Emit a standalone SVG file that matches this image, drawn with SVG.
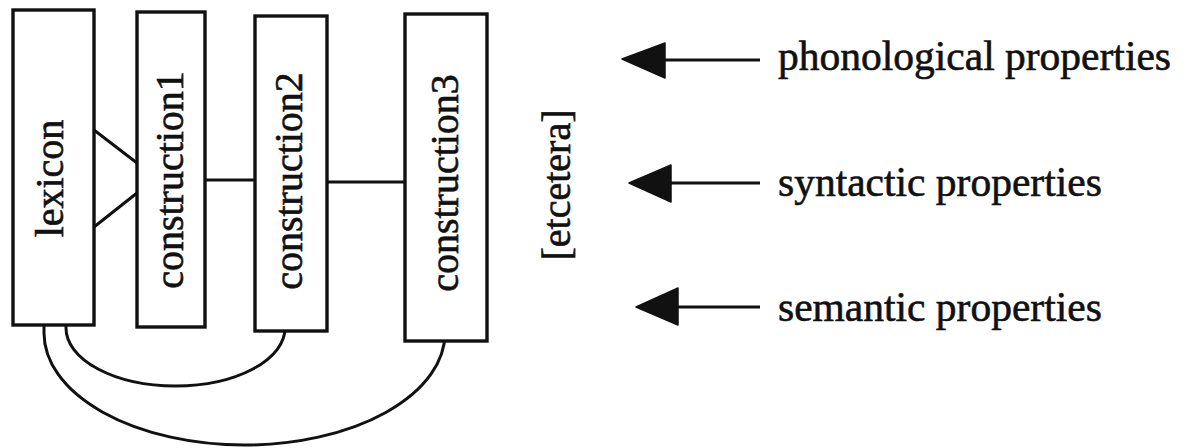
<svg xmlns="http://www.w3.org/2000/svg" width="1194" height="448" viewBox="0 0 1194 448">
<style>
.box{fill:#fff;stroke:#111;stroke-width:3.4}
.ln{fill:none;stroke:#111;stroke-width:3}
.t{font-family:"Liberation Serif","Times New Roman",serif;font-size:40px;fill:#111;stroke:#111;stroke-width:0.6}
.lbl{font-family:"Liberation Serif","Times New Roman",serif;font-size:41.5px;fill:#111;stroke:#111;stroke-width:0.6}
.head{fill:#111;stroke:#111;stroke-width:1.5;stroke-linejoin:round}
</style>
<rect width="1194" height="448" fill="#fff"/>
<g id="connectors">
<path class="ln" d="M94,130 L137,163 M94,227 L137,193"/>
<path class="ln" d="M205,180 L255,180"/>
<path class="ln" d="M327,182 L405,182"/>
<path class="ln" d="M66,325 L66,328 A109.5,58 0 0 0 285,328 L285,331"/>
<path class="ln" d="M44,325 L44,333 A200.5,112 0 0 0 445,333 L445,341"/>
</g>
<g id="lexicon">
<rect class="box" x="13" y="10" width="81" height="315"/>
<text class="t" transform="translate(63,178.5) rotate(-90)" text-anchor="middle">lexicon</text>
</g>
<g id="construction1">
<rect class="box" x="137" y="12" width="68" height="315"/>
<text class="t" transform="translate(183,180) rotate(-90)" text-anchor="middle">construction1</text>
</g>
<g id="construction2">
<rect class="box" x="255" y="16" width="72" height="315"/>
<text class="t" transform="translate(302,181) rotate(-90)" text-anchor="middle">construction2</text>
</g>
<g id="construction3">
<rect class="box" x="405" y="14" width="82" height="327"/>
<text class="t" transform="translate(458,183) rotate(-90)" text-anchor="middle">construction3</text>
</g>
<g id="etcetera">
<text class="t" transform="translate(570,185) rotate(-90)" text-anchor="middle">[etcetera]</text>
</g>
<g id="phonological">
<path class="ln" d="M660,60 L760,60"/>
<polygon class="head" points="622,59 665,43 665,78"/>
<text class="lbl" x="778" y="70">phonological properties</text>
</g>
<g id="syntactic">
<path class="ln" d="M665,183 L760,183"/>
<polygon class="head" points="629,183 671,165 671,202"/>
<text class="lbl" x="778" y="196">syntactic properties</text>
</g>
<g id="semantic">
<path class="ln" d="M672,307 L760,307"/>
<polygon class="head" points="636,307 678,288 678,325"/>
<text class="lbl" x="778" y="321">semantic properties</text>
</g>
</svg>
